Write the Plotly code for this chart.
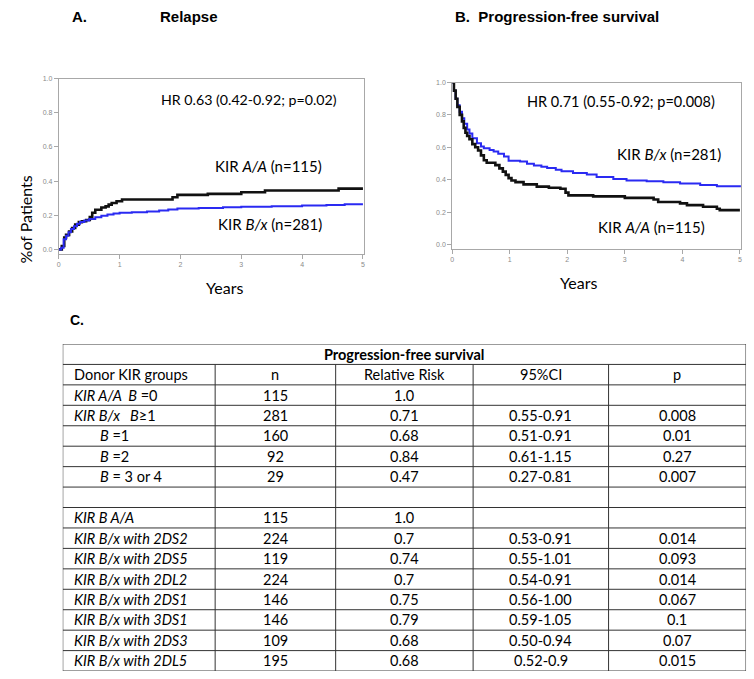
import plotly.graph_objects as go

W, H = 754, 679

# ---------------- Data ----------------
# Panel A: Relapse (cumulative incidence)
rel_aa_t = [0, 0.05, 0.09, 0.12, 0.17, 0.22, 0.27, 0.33, 0.38, 0.45, 0.51, 0.55, 0.6, 0.7, 0.77, 0.82, 0.87, 0.95, 1.04, 1.87, 1.95, 2.45, 3.0, 3.39, 4.6, 5.0]
rel_aa_v = [0, 0.02, 0.07, 0.085, 0.105, 0.125, 0.145, 0.16, 0.165, 0.172, 0.19, 0.215, 0.232, 0.245, 0.252, 0.262, 0.272, 0.282, 0.292, 0.305, 0.319, 0.325, 0.335, 0.345, 0.356, 0.356]
rel_bx_t = [0, 0.04, 0.08, 0.12, 0.16, 0.2, 0.25, 0.3, 0.35, 0.42, 0.5, 0.6, 0.7, 0.8, 0.9, 1.0, 1.2, 1.45, 1.65, 1.8, 1.95, 2.3, 2.7, 3.0, 3.5, 4.0, 4.4, 4.7, 5.0]
rel_bx_v = [0, 0.01, 0.06, 0.08, 0.10, 0.12, 0.135, 0.15, 0.16, 0.17, 0.178, 0.188, 0.197, 0.205, 0.21, 0.215, 0.218, 0.222, 0.228, 0.234, 0.24, 0.243, 0.247, 0.25, 0.253, 0.257, 0.26, 0.265, 0.265]

# Panel B: Progression-free survival
pfs_aa_t = [0, 0.03, 0.06, 0.09, 0.13, 0.17, 0.2, 0.23, 0.26, 0.3, 0.35, 0.4, 0.45, 0.5, 0.55, 0.6, 0.75, 0.82, 0.88, 0.93, 0.98, 1.03, 1.1, 1.24, 1.47, 1.68, 1.88, 1.97, 2.02, 2.45, 3.0, 3.5, 3.58, 3.96, 4.08, 4.36, 4.6, 4.65, 5.0]
pfs_aa_v = [1, 0.95, 0.9, 0.85, 0.8, 0.76, 0.72, 0.69, 0.67, 0.65, 0.62, 0.6, 0.58, 0.55, 0.52, 0.505, 0.49, 0.47, 0.45, 0.43, 0.41, 0.395, 0.385, 0.371, 0.357, 0.35, 0.344, 0.32, 0.303, 0.297, 0.288, 0.278, 0.262, 0.254, 0.243, 0.233, 0.221, 0.212, 0.212]
pfs_bx_t = [0, 0.03, 0.06, 0.09, 0.13, 0.17, 0.21, 0.26, 0.3, 0.35, 0.43, 0.5, 0.55, 0.65, 0.72, 0.8, 0.9, 0.98, 1.18, 1.3, 1.42, 1.55, 1.65, 1.8, 1.9, 2.1, 2.34, 2.51, 2.8, 3.03, 3.38, 3.67, 3.96, 4.31, 4.6, 5.0]
pfs_bx_v = [1, 0.95, 0.9, 0.86, 0.82, 0.78, 0.745, 0.71, 0.685, 0.656, 0.625, 0.605, 0.595, 0.583, 0.574, 0.56, 0.544, 0.517, 0.513, 0.499, 0.487, 0.48, 0.473, 0.462, 0.452, 0.442, 0.432, 0.417, 0.405, 0.395, 0.39, 0.385, 0.377, 0.367, 0.36, 0.354]

year_ticks = [0, 1, 2, 3, 4, 5]
prob_ticks = [0.0, 0.2, 0.4, 0.6, 0.8, 1.0]
prob_tick_labels = ["0.0", "0.2", "0.4", "0.6", "0.8", "1.0"]

# Table
table_title = "Progression-free survival"
table_header = ["Donor KIR groups", "n", "Relative Risk", "95%CI", "p"]
row_groups = ["<i>KIR A/A&nbsp;&nbsp;B</i> =0", "<i>KIR B/x&nbsp;&nbsp;&nbsp;B</i>≥1", "<i>B</i> =1", "<i>B</i> =2", "<i>B</i> = 3 or 4", "",
              "<i>KIR B A/A</i>", "<i>KIR B/x with 2DS2</i>", "<i>KIR B/x with 2DS5</i>", "<i>KIR B/x with 2DL2</i>",
              "<i>KIR B/x with 2DS1</i>", "<i>KIR B/x with 3DS1</i>", "<i>KIR B/x with 2DS3</i>", "<i>KIR B/x with 2DL5</i>"]
row_indent = [False, False, True, True, True, False, False, False, False, False, False, False, False, False]
row_n = ["115", "281", "160", "92", "29", "", "115", "224", "119", "224", "146", "146", "109", "195"]
row_rr = ["1.0", "0.71", "0.68", "0.84", "0.47", "", "1.0", "0.7", "0.74", "0.7", "0.75", "0.79", "0.68", "0.68"]
row_ci = ["", "0.55-0.91", "0.51-0.91", "0.61-1.15", "0.27-0.81", "", "", "0.53-0.91", "0.55-1.01", "0.54-0.91", "0.56-1.00", "0.59-1.05", "0.50-0.94", "0.52-0.9"]
row_p = ["", "0.008", "0.01", "0.27", "0.007", "", "", "0.014", "0.093", "0.014", "0.067", "0.1", "0.07", "0.015"]

# ---------------- Styles ----------------
BLACK = "#111111"
BLUE = "#2a2af2"
TXT = "Lato, 'Open Sans', sans-serif"
BOLD = "'Liberation Sans', Arial, sans-serif"
col_widths = [153, 121, 138, 136, 138]

fig = go.Figure()

fig.add_trace(go.Scatter(x=rel_aa_t, y=rel_aa_v, mode="lines", line=dict(shape="hv", color=BLACK, width=2.6),
                         xaxis="x", yaxis="y", showlegend=False, hoverinfo="skip"))
fig.add_trace(go.Scatter(x=rel_bx_t, y=rel_bx_v, mode="lines", line=dict(shape="hv", color=BLUE, width=2),
                         xaxis="x", yaxis="y", showlegend=False, hoverinfo="skip"))
fig.add_trace(go.Scatter(x=pfs_bx_t, y=pfs_bx_v, mode="lines", line=dict(shape="hv", color=BLUE, width=2),
                         xaxis="x2", yaxis="y2", showlegend=False, hoverinfo="skip"))
fig.add_trace(go.Scatter(x=pfs_aa_t, y=pfs_aa_v, mode="lines", line=dict(shape="hv", color=BLACK, width=2.6),
                         xaxis="x2", yaxis="y2", showlegend=False, hoverinfo="skip"))

def px_dom(a, b, total):
    return [a / total, b / total]

def py_dom(top, bottom):
    return [1 - bottom / H, 1 - top / H]

axis_common = dict(showline=True, linecolor="#a8a8a8", linewidth=1, mirror=True, showgrid=False, zeroline=False,
                   ticks="outside", ticklen=4, tickcolor="#a8a8a8",
                   tickfont=dict(family="'Liberation Sans', Arial", size=7, color="#8a8a8a"))

fig.update_layout(
    width=W, height=H, margin=dict(l=0, r=0, t=0, b=0),
    paper_bgcolor="white", plot_bgcolor="white", showlegend=False,
    xaxis=dict(domain=px_dom(57, 363, W), range=[0, 5.01], tickvals=year_ticks, anchor="y", **axis_common),
    yaxis=dict(domain=py_dom(75, 251), range=[-0.024, 1.0], tickvals=prob_ticks, ticktext=prob_tick_labels, anchor="x", **axis_common),
    xaxis2=dict(domain=px_dom(452, 742, W), range=[0, 5.02], tickvals=year_ticks, anchor="y2", **axis_common),
    yaxis2=dict(domain=py_dom(79, 246), range=[-0.025, 1.0], tickvals=prob_ticks, ticktext=prob_tick_labels, anchor="x2", **axis_common),
    xaxis3=dict(domain=px_dom(61, 747, W), range=[0, sum(col_widths)], visible=False, anchor="y3", fixedrange=True),
    yaxis3=dict(domain=py_dom(342, 671), range=[len(row_groups) + 2, 0], visible=False, anchor="x3", fixedrange=True),
)

ann = []
def A(**kw):
    ann.append(dict(showarrow=False, **kw))

# Panel titles
A(text="<b>A.</b>", x=68 / W, y=1 - 13 / H, xref="paper", yref="paper", xanchor="left", yanchor="middle",
  font=dict(family=BOLD, size=15, color="black"))
A(text="<b>Relapse</b>", x=157 / W, y=1 - 13 / H, xref="paper", yref="paper", xanchor="left", yanchor="middle",
  font=dict(family=BOLD, size=15, color="black"))
A(text="<b>B.&nbsp;&nbsp;Progression-free survival</b>", x=453 / W, y=1 - 13 / H, xref="paper", yref="paper",
  xanchor="left", yanchor="middle", font=dict(family=BOLD, size=15, color="black"))
A(text="<b>C.</b>", x=66 / W, y=1 - 318 / H, xref="paper", yref="paper", xanchor="left", yanchor="middle",
  font=dict(family=BOLD, size=14, color="black"))

# Axis titles
A(text="%of Patients", x=13 / W, y=1 - 170 / H, xref="paper", yref="paper", textangle=-90,
  font=dict(family=TXT, size=16, color="black"))
A(text="Years", x=203 / W, y=1 - 285 / H, xref="paper", yref="paper", font=dict(family=TXT, size=16, color="black"))
A(text="Years", x=599 / W, y=1 - 280 / H, xref="paper", yref="paper", font=dict(family=TXT, size=16, color="black"))

# In-plot labels
A(text="HR 0.63 (0.42-0.92; p=0.02)", x=1.64, y=0.88, xref="x", yref="y", xanchor="left",
  font=dict(family=TXT, size=14.2, color="black"))
A(text="KIR <i>A/A</i> (n=115)", x=2.53, y=0.49, xref="x", yref="y", xanchor="left",
  font=dict(family=TXT, size=15, color="black"))
A(text="KIR <i>B/x</i> (n=281)", x=2.59, y=0.15, xref="x", yref="y", xanchor="left",
  font=dict(family=TXT, size=15, color="black"))
A(text="HR 0.71 (0.55-0.92; p=0.008)", x=1.27, y=0.88, xref="x2", yref="y2", xanchor="left",
  font=dict(family=TXT, size=14.5, color="black"))
A(text="KIR <i>B/x</i> (n=281)", x=2.83, y=0.56, xref="x2", yref="y2", xanchor="left",
  font=dict(family=TXT, size=15, color="black"))
A(text="KIR <i>A/A</i> (n=115)", x=2.5, y=0.11, xref="x2", yref="y2", xanchor="left",
  font=dict(family=TXT, size=15, color="black"))

# Table
edges = [0]
for w in col_widths:
    edges.append(edges[-1] + w)
centers = [(edges[i] + edges[i + 1]) / 2 for i in range(len(col_widths))]
nrows = len(row_groups) + 2
tfont = dict(family=TXT, size=14.5, color="black")

shapes = []
line_style = dict(color="#333333", width=1)
for r in range(nrows + 1):
    shapes.append(dict(type="line", xref="x3", yref="y3", x0=0, x1=edges[-1], y0=r, y1=r, line=line_style))
for i, e in enumerate(edges):
    y0 = 0 if i in (0, len(edges) - 1) else 1
    shapes.append(dict(type="line", xref="x3", yref="y3", x0=e, x1=e, y0=y0, y1=nrows, line=line_style))

A(text="<b>" + table_title + "</b>", x=edges[-1] / 2, y=0.5, xref="x3", yref="y3", font=tfont)
A(text=table_header[0], x=9, y=1.5, xref="x3", yref="y3", xanchor="left", font=tfont)
for j in range(1, 5):
    A(text=table_header[j], x=centers[j], y=1.5, xref="x3", yref="y3", font=tfont)
for i in range(len(row_groups)):
    yy = i + 2.5
    if row_groups[i]:
        A(text=row_groups[i], x=35 if row_indent[i] else 9, y=yy, xref="x3", yref="y3", xanchor="left", font=tfont)
    for j, col in enumerate([row_n, row_rr, row_ci, row_p], start=1):
        if col[i]:
            A(text=col[i], x=centers[j], y=yy, xref="x3", yref="y3", font=tfont)

fig.update_layout(annotations=ann, shapes=shapes)
fig.write_html("out.html", config={"displayModeBar": False, "staticPlot": True},
               post_script="document.body.style.margin='0';document.body.style.padding='0';"
                           "document.documentElement.style.overflow='hidden';")
